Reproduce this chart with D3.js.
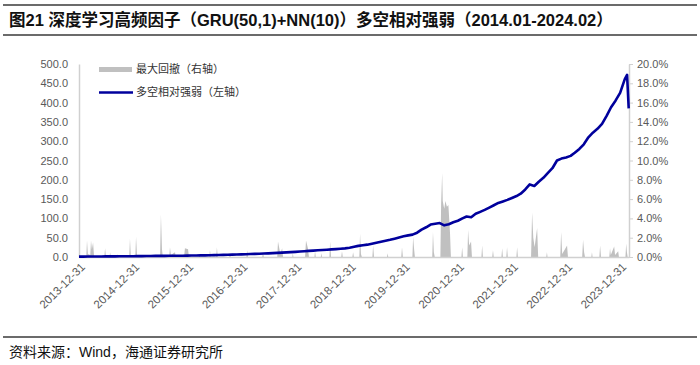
<!DOCTYPE html>
<html>
<head>
<meta charset="utf-8">
<script src="https://cdn.jsdelivr.net/npm/d3@7"></script>
<style>
  body { margin: 0; background: #fff; }
  svg { display: block; }
</style>
</head>
<body>
<svg id="chart" width="700" height="365"></svg>
<script>
// 多空相对强弱（左轴），月末值
var lineDates = [
  "2014-01-31","2014-02-28","2014-03-31","2014-04-30","2014-05-31","2014-06-30","2014-07-31","2014-08-31","2014-09-30","2014-10-31","2014-11-30","2014-12-31",
  "2015-01-31","2015-02-28","2015-03-31","2015-04-30","2015-05-31","2015-06-30","2015-07-31","2015-08-31","2015-09-30","2015-10-31","2015-11-30","2015-12-31",
  "2016-01-31","2016-02-29","2016-03-31","2016-04-30","2016-05-31","2016-06-30","2016-07-31","2016-08-31","2016-09-30","2016-10-31","2016-11-30","2016-12-31",
  "2017-01-31","2017-02-28","2017-03-31","2017-04-30","2017-05-31","2017-06-30","2017-07-31","2017-08-31","2017-09-30","2017-10-31","2017-11-30","2017-12-31",
  "2018-01-31","2018-02-28","2018-03-31","2018-04-30","2018-05-31","2018-06-30","2018-07-31","2018-08-31","2018-09-30","2018-10-31","2018-11-30","2018-12-31",
  "2019-01-31","2019-02-28","2019-03-31","2019-04-30","2019-05-31","2019-06-30","2019-07-31","2019-08-31","2019-09-30","2019-10-31","2019-11-30","2019-12-31",
  "2020-01-31","2020-02-29","2020-03-31","2020-04-30","2020-05-31","2020-06-30","2020-07-31","2020-08-31","2020-09-30","2020-10-31","2020-11-30","2020-12-31",
  "2021-01-31","2021-02-28","2021-03-31","2021-04-30","2021-05-31","2021-06-30","2021-07-31","2021-08-31","2021-09-30","2021-10-31","2021-11-30","2021-12-31",
  "2022-01-31","2022-02-28","2022-03-31","2022-04-30","2022-05-31","2022-06-30","2022-07-31","2022-08-31","2022-09-30","2022-10-31","2022-11-30","2022-12-31",
  "2023-01-31","2023-02-28","2023-03-31","2023-04-30","2023-05-31","2023-06-30","2023-07-31","2023-08-31","2023-09-30","2023-10-31","2023-11-30","2023-12-31",
  "2024-01-31","2024-02-16","2024-02-27"
];
var lineValues = [
  1.0, 1.1, 1.2, 1.3, 1.4, 1.5, 1.6, 1.7, 1.8, 1.9, 2.0, 2.1,
  2.2, 2.3, 2.5, 2.7, 2.8, 2.9, 3.0, 3.1, 3.2, 3.3, 3.4, 3.5,
  3.7, 3.9, 4.1, 4.3, 4.6, 4.9, 5.2, 5.5, 5.8, 6.1, 6.4, 6.8,
  7.2, 7.6, 8.0, 8.5, 9.0, 9.5, 10.1, 10.7, 11.3, 12.0, 12.7, 13.4,
  14.1, 14.9, 15.8, 16.6, 17.4, 18.1, 18.9, 19.7, 20.5, 21.4, 22.4, 24.0,
  26.5, 28.8, 30.5, 32.0, 34.5, 37.0, 39.5, 42.0, 44.5, 47.5, 50.5, 53.5,
  56, 58, 63, 71, 77, 84, 86, 88, 82, 85, 90, 94,
  100, 105, 103, 112, 117, 122, 128, 134, 140, 144, 148, 153,
  158, 164, 175, 188, 184, 195, 205, 218, 230, 250, 255, 258,
  262, 270, 280, 292, 310, 322, 332, 345, 365, 388, 405, 425,
  460, 472, 385
];

// 最大回撤（右轴），单位 %
var ddDates = [
  "2014-01-02","2014-02-18","2014-02-23","2014-03-01","2014-03-17","2014-03-22","2014-03-28","2014-04-05","2014-04-12",
  "2014-06-20","2014-06-25","2014-07-01","2014-07-25","2014-07-29","2014-08-03","2014-09-12","2014-09-15","2014-09-19",
  "2014-12-05","2014-12-10","2014-12-16","2015-01-15","2015-01-20","2015-01-27",
  "2015-07-01","2015-07-07","2015-07-14","2015-07-20","2015-09-01","2015-09-06","2015-09-12","2015-10-10","2015-10-15",
  "2015-12-10","2015-12-16","2016-01-06","2016-01-12","2016-03-20","2016-03-23","2016-03-27",
  "2016-05-28","2016-06-02","2016-06-07","2016-07-14","2016-07-19","2016-07-24","2016-10-10","2016-10-15","2016-10-20",
  "2017-02-03","2017-02-08","2017-02-13","2017-05-21","2017-05-26","2017-05-31",
  "2017-08-30","2017-09-04","2017-09-20","2017-10-02","2017-10-08","2017-12-10","2017-12-13","2017-12-17",
  "2018-03-06","2018-03-12","2018-03-25","2018-04-01","2018-05-08","2018-05-12","2018-05-17",
  "2018-06-20","2018-06-24","2018-06-28","2018-08-17","2018-08-22","2018-08-28","2018-11-05","2018-11-10","2018-11-15",
  "2019-01-19","2019-01-24","2019-01-29","2019-03-07","2019-03-12","2019-03-18","2019-03-24",
  "2019-06-03","2019-06-08","2019-06-14","2019-09-10","2019-09-14","2019-09-18","2019-12-15","2019-12-20","2019-12-26",
  "2020-02-28","2020-03-04","2020-03-10","2020-03-16","2020-07-11","2020-07-16","2020-07-22","2020-07-28",
  "2020-09-04","2020-09-09","2020-09-16","2020-09-20","2020-09-30","2020-10-08","2020-10-18","2020-10-28","2020-11-08","2020-11-14",
  "2021-01-24","2021-01-29","2021-02-03","2021-03-05","2021-03-10","2021-03-17","2021-03-30","2021-04-05",
  "2021-06-08","2021-06-13","2021-06-18","2021-08-20","2021-08-25","2021-08-30","2021-10-21","2021-10-26","2021-10-31",
  "2021-11-23","2021-11-28","2021-12-03","2022-01-30","2022-02-04","2022-02-09",
  "2022-05-09","2022-05-16","2022-05-24","2022-06-02","2022-06-19","2022-06-26",
  "2022-08-20","2022-08-24","2022-08-28","2022-11-22","2022-11-28","2022-12-05","2023-01-07","2023-01-13",
  "2023-04-19","2023-04-25","2023-05-02","2023-05-08","2023-06-20","2023-06-24","2023-06-28",
  "2023-08-13","2023-08-18","2023-08-24","2023-10-19","2023-10-24","2023-10-29","2023-11-21","2023-11-27","2023-12-18","2023-12-23",
  "2024-02-05","2024-02-10","2024-02-15","2024-02-20"
];
var ddValues = [
  0, 0, 1.7, 0.3, 0.2, 1.7, 0.8, 1.5, 0,
  0, 0.9, 0, 0, 0.5, 0, 0, 0.3, 0,
  0, 1.9, 0, 0, 2.1, 0,
  0, 4.4, 0.8, 0, 0, 1.0, 0.2, 0.5, 0,
  0, 0.9, 0.8, 0, 0, 0.3, 0,
  0, 0.7, 0, 0, 1.0, 0, 0, 0.4, 0,
  0, 0.7, 0, 0, 0.5, 0,
  0, 1.6, 0.3, 0.9, 0, 0, 0.4, 0,
  0, 1.7, 0.9, 0, 0, 0.6, 0,
  0, 0.4, 0, 0, 1.6, 0, 0, 0.6, 0,
  0, 0.5, 0, 0, 2.4, 0.3, 0,
  0, 1.2, 0, 0, 0.4, 0, 0, 1.0, 0,
  0, 2.1, 0.9, 0, 0, 2.6, 0.5, 0,
  0, 5.5, 8.7, 5.8, 5.0, 5.8, 5.2, 5.4, 2.5, 0,
  0, 1.0, 0, 0, 2.8, 1.2, 1.6, 0,
  0, 1.2, 0, 0, 0.7, 0, 0, 0.9, 0,
  0, 1.0, 0, 0, 1.0, 0,
  0, 4.6, 2.0, 1.0, 3.0, 0,
  0, 0.5, 0, 0, 2.6, 0.3, 1.2, 0,
  0, 1.8, 0.5, 0, 0, 0.5, 0,
  0, 1.2, 0, 0, 0.9, 0.2, 1.1, 0.2, 0.6, 0,
  0, 1.4, 0.5, 0
];

var xTickDates = ["2013-12-31","2014-12-31","2015-12-31","2016-12-31","2017-12-31","2018-12-31",
                  "2019-12-31","2020-12-31","2021-12-31","2022-12-31","2023-12-31"];
var leftTicks = [0, 50, 100, 150, 200, 250, 300, 350, 400, 450, 500];
var rightTicks = [0, 2, 4, 6, 8, 10, 12, 14, 16, 18, 20];

var titleText = "图21 深度学习高频因子（GRU(50,1)+NN(10)）多空相对强弱（2014.01-2024.02）";
var sourceText = "资料来源：Wind，海通证券研究所";
var legendNames = ["最大回撤（右轴）", "多空相对强弱（左轴）"];

function init() {
  var parse = d3.timeParse("%Y-%m-%d");
  var svg = d3.select("#chart");
  var cjk = "'Liberation Sans', Arial, 'Noto Sans CJK SC', sans-serif";

  var margin = { top: 64, right: 71, bottom: 108, left: 79 };
  var width = 700, height = 365;
  var plotBottom = height - margin.bottom; // 257
  var plotRight = width - margin.right;    // 629

  var x = d3.scaleTime()
    .domain([parse("2013-12-31"), parse("2024-02-29")])
    .range([margin.left, plotRight]);
  var yL = d3.scaleLinear().domain([0, 500]).range([plotBottom, margin.top]);
  var yR = d3.scaleLinear().domain([0, 20]).range([plotBottom, margin.top]);

  // header / footer rules
  svg.append("line").attr("x1", 3).attr("x2", 697).attr("y1", 5).attr("y2", 5)
    .attr("stroke", "#3a3a3a").attr("stroke-width", 1.5);
  svg.append("line").attr("x1", 3).attr("x2", 697).attr("y1", 35).attr("y2", 35)
    .attr("stroke", "#3a3a3a").attr("stroke-width", 1.5);
  svg.append("line").attr("x1", 3).attr("x2", 697).attr("y1", 337).attr("y2", 337)
    .attr("stroke", "#3a3a3a").attr("stroke-width", 1.5);

  svg.append("text").attr("x", 9).attr("y", 26)
    .attr("font-family", cjk).attr("font-weight", "bold").attr("font-size", 16.5)
    .attr("fill", "#111").text(titleText);

  svg.append("text").attr("x", 9).attr("y", 357)
    .attr("font-family", cjk).attr("font-size", 14)
    .attr("fill", "#111").text(sourceText);

  // drawdown area
  var dd = ddDates.map(function (d, i) { return { date: parse(d), v: ddValues[i] }; });
  var area = d3.area()
    .x(function (d) { return x(d.date); })
    .y0(plotBottom)
    .y1(function (d) { return yR(d.v); });
  svg.append("path").datum(dd).attr("d", area).attr("fill", "#c0c0c0");

  // axes
  var axL = svg.append("g").attr("transform", "translate(" + margin.left + ",0)")
    .call(d3.axisLeft(yL).tickValues(leftTicks).tickFormat(d3.format(".1f")).tickSize(0).tickPadding(11));
  var axR = svg.append("g").attr("transform", "translate(" + plotRight + ",0)")
    .call(d3.axisRight(yR).tickValues(rightTicks).tickFormat(function (d) { return d.toFixed(1) + "%"; })
      .tickSize(4).tickPadding(4).tickSizeOuter(0));
  var axB = svg.append("g").attr("transform", "translate(0," + plotBottom + ")")
    .call(d3.axisBottom(x).tickValues(xTickDates.map(parse)).tickFormat(d3.timeFormat("%Y-%m-%d"))
      .tickSize(0).tickSizeOuter(0));

  [axL, axR, axB].forEach(function (g) {
    g.select(".domain").attr("stroke", "#d0d0d0").attr("stroke-width", 1.5);
    g.selectAll(".tick line").attr("stroke", "#d0d0d0");
    g.selectAll("text").attr("font-family", "'Liberation Sans', Arial, sans-serif")
      .attr("font-size", 11).attr("fill", "#595959");
  });
  axB.selectAll("text")
    .attr("text-anchor", "end")
    .attr("x", -3).attr("y", 8).attr("dy", "0.35em")
    .attr("font-size", 11.5)
    .attr("transform", "rotate(-45)");

  // long-short line
  var pts = lineDates.map(function (d, i) { return { date: parse(d), v: lineValues[i] }; });
  pts.unshift({ date: parse("2013-12-31"), v: 1.0 });
  var line = d3.line()
    .x(function (d) { return x(d.date); })
    .y(function (d) { return yL(d.v); });
  svg.append("path").datum(pts).attr("d", line)
    .attr("fill", "none").attr("stroke", "#00009c").attr("stroke-width", 2.6)
    .attr("stroke-linejoin", "round");

  // legend
  var lg = svg.append("g").attr("font-family", "'Noto Sans CJK SC', sans-serif")
    .attr("font-size", 11).attr("fill", "#333");
  lg.append("rect").attr("x", 99).attr("y", 67).attr("width", 33).attr("height", 5).attr("fill", "#c0c0c0");
  lg.append("text").attr("x", 136).attr("y", 69).attr("dy", "0.35em").text(legendNames[0]);
  lg.append("line").attr("x1", 99).attr("x2", 133).attr("y1", 92.5).attr("y2", 92.5)
    .attr("stroke", "#00009c").attr("stroke-width", 2.6);
  lg.append("text").attr("x", 136).attr("y", 92).attr("dy", "0.35em").text(legendNames[1]);
}

init();
</script>
</body>
</html>
